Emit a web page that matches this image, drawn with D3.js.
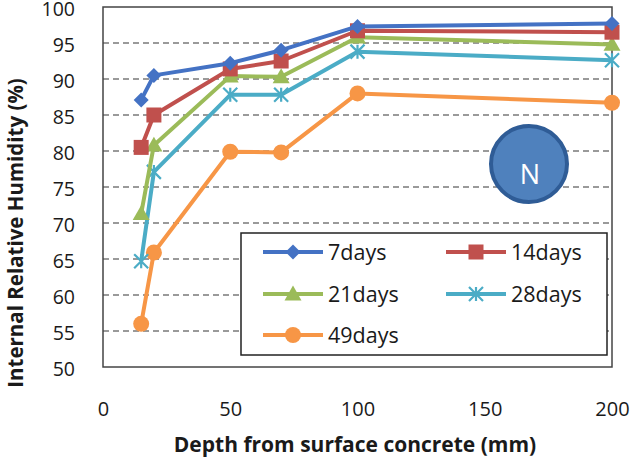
<!DOCTYPE html>
<html><head><meta charset="utf-8">
<script src="https://cdn.jsdelivr.net/npm/d3@7"></script>
<style>body{margin:0;background:#fff}text{font-family:"Open Sans","Liberation Sans",sans-serif}</style>
</head><body>
<script>
const depths = [15, 20, 50, 70, 100, 200];
const seriesNames = ["7days", "14days", "21days", "28days", "49days"];
const days7  = [87.1, 90.5, 92.2, 94.0, 97.3, 97.7];
const days14 = [80.5, 85.0, 91.4, 92.5, 96.7, 96.5];
const days21 = [71.3, 80.8, 90.4, 90.3, 95.8, 94.8];
const days28 = [64.7, 77.1, 87.8, 87.8, 93.8, 92.6];
const days49 = [56.0, 65.9, 79.9, 79.8, 88.0, 86.7];
const xTicks = [0, 50, 100, 150, 200];
const yTicks = [50, 55, 60, 65, 70, 75, 80, 85, 90, 95, 100];

const colors = ["#4472C4", "#C0504D", "#9BBB59", "#4BACC6", "#F79646"];
const markers = ["diamond", "square", "triangle", "asterisk", "circle"];
const allData = [days7, days14, days21, days28, days49];

const W = 641, H = 465;
const svg = d3.select("body").append("svg").attr("width", W).attr("height", H);
const m = {l: 103, r: 612, t: 7, b: 367};
const x = d3.scaleLinear().domain([0, 200]).range([m.l, m.r]);
const y = d3.scaleLinear().domain([50, 100]).range([m.b, m.t]);

// gridlines
svg.append("g").selectAll("line").data(yTicks.filter(v => v > 50 && v < 100)).join("line")
  .attr("x1", m.l).attr("x2", m.r).attr("y1", d => y(d)).attr("y2", d => y(d))
  .attr("stroke", "#9a9a9a").attr("stroke-width", 2).attr("stroke-dasharray", "6,4");

// frame
svg.append("rect").attr("x", m.l).attr("y", m.t).attr("width", m.r - m.l).attr("height", m.b - m.t)
  .attr("fill", "none").attr("stroke", "#444").attr("stroke-width", 1.5);

// axes labels
const yAxis = d3.axisLeft(y).tickValues(yTicks).tickSize(0).tickPadding(28);
const gy = svg.append("g").attr("transform", `translate(${m.l},0)`).call(yAxis);
gy.select(".domain").remove();
gy.selectAll("text").attr("font-size", 19.5).attr("fill", "#1a1a1a").attr("dy", "0.42em")
  .attr("font-family", "'Open Sans',sans-serif");

const xAxis = d3.axisBottom(x).tickValues(xTicks).tickSize(0).tickPadding(35);
const gx = svg.append("g").attr("transform", `translate(0,${m.b})`).call(xAxis);
gx.select(".domain").remove();
gx.selectAll("text").attr("font-size", 20).attr("fill", "#1a1a1a").attr("font-family", "'Open Sans',sans-serif");

svg.append("text").attr("x", 355).attr("y", 452).attr("text-anchor", "middle")
  .attr("font-size", 21).attr("font-weight", "bold").attr("fill", "#1a1a1a").text("Depth from surface concrete (mm)");
svg.append("text").attr("transform", `translate(23,233) rotate(-90)`).attr("text-anchor", "middle")
  .attr("font-size", 20.5).attr("font-weight", "bold").attr("fill", "#1a1a1a").text("Internal Relative Humidity (%)");

function drawMarker(g, type, cx, cy, color, s) {
  s = s || 1;
  if (type === "diamond") {
    const r = 7.5 * s;
    g.append("path").attr("d", `M${cx},${cy - r}L${cx + r},${cy}L${cx},${cy + r}L${cx - r},${cy}Z`).attr("fill", color);
  } else if (type === "square") {
    const r = 7.5 * s;
    g.append("rect").attr("x", cx - r).attr("y", cy - r).attr("width", 2 * r).attr("height", 2 * r).attr("fill", color);
  } else if (type === "triangle") {
    const r = 8.5 * s;
    g.append("path").attr("d", `M${cx},${cy - r}L${cx + r},${cy + r * 0.75}L${cx - r},${cy + r * 0.75}Z`).attr("fill", color);
  } else if (type === "asterisk") {
    const r = 7 * s;
    g.append("path").attr("d", `M${cx - r},${cy - r}L${cx + r},${cy + r}M${cx - r},${cy + r}L${cx + r},${cy - r}M${cx},${cy - r}L${cx},${cy + r}`)
      .attr("stroke", color).attr("stroke-width", 2.2).attr("fill", "none");
  } else if (type === "circle") {
    g.append("circle").attr("cx", cx).attr("cy", cy).attr("r", 8 * s).attr("fill", color);
  }
}

const line = d3.line().x((d, i) => x(depths[i])).y(d => y(d));
for (let k = allData.length - 1; k >= 0; k--) {
  const g = svg.append("g");
  g.append("path").datum(allData[k]).attr("d", line).attr("fill", "none")
    .attr("stroke", colors[k]).attr("stroke-width", 4).attr("stroke-linejoin", "round");
  allData[k].forEach((v, i) => drawMarker(g, markers[k], x(depths[i]), y(v), colors[k]));
}

// N circle
svg.append("circle").attr("cx", 529).attr("cy", 164).attr("r", 38)
  .attr("fill", "#4F81BD").attr("stroke", "#2F5C96").attr("stroke-width", 4);
svg.append("text").attr("x", 530).attr("y", 184).attr("text-anchor", "middle")
  .attr("font-size", 27).attr("fill", "#fff").text("N");

// legend
const lg = svg.append("g");
lg.append("rect").attr("x", 241).attr("y", 233).attr("width", 366).attr("height", 122)
  .attr("fill", "#fff").attr("stroke", "#222").attr("stroke-width", 1.5);
const legPos = [[263, 252], [446, 252], [263, 294], [446, 294], [263, 335]];
seriesNames.forEach((name, k) => {
  const [lx, ly] = legPos[k];
  lg.append("line").attr("x1", lx).attr("x2", lx + 60).attr("y1", ly).attr("y2", ly)
    .attr("stroke", colors[k]).attr("stroke-width", 4);
  drawMarker(lg, markers[k], lx + 30, ly, colors[k]);
  lg.append("text").attr("x", lx + 65).attr("y", ly + 8).attr("font-size", 21.5).attr("fill", "#1a1a1a").text(name);
});
</script>
</body></html>
